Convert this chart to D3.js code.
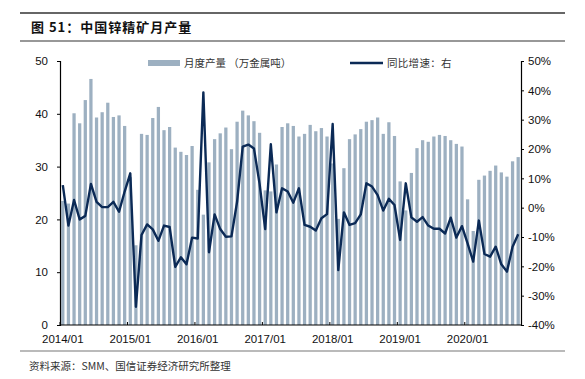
<!DOCTYPE html>
<html><head><meta charset="utf-8">
<script src="https://cdn.jsdelivr.net/npm/d3@7/dist/d3.min.js"></script>
<style>
html,body{margin:0;padding:0;background:#fff;}
svg{display:block;}
</style>
</head><body>
<script>
// ---- data ----
const startYear = 2014;
const monthCount = 82; // 2014/01 .. 2020/10
const months = d3.range(monthCount).map(i => {
  const y = startYear + Math.floor(i / 12), m = (i % 12) + 1;
  return y + "/" + (m < 10 ? "0" + m : m);
});
// 月度产量（万金属吨）
const production = [
  23.5, 23.0, 40.1, 38.2, 42.6, 46.6, 39.3, 40.3, 42.1, 39.4, 39.7, 37.7,
  28.0, 15.1, 36.2, 36.0, 39.2, 41.3, 36.9, 37.5, 33.6, 32.8, 32.2, 33.9,
  25.6, 20.9, 30.8, 35.2, 36.3, 37.4, 33.3, 38.5, 40.6, 39.7, 38.6, 36.4,
  25.5, 25.3, 30.4, 37.5, 38.2, 37.7, 35.7, 36.2, 37.9, 36.7, 37.3, 35.7,
  30.6, 20.1, 29.7, 35.2, 36.1, 37.1, 38.5, 38.8, 39.3, 36.2, 38.4, 35.8,
  27.2, 21.7, 28.8, 33.5, 35.0, 34.7, 35.7, 36.0, 35.8, 35.0, 34.3, 33.8,
  23.8, 17.8, 27.5, 28.3, 29.2, 30.2, 28.9, 28.1, 31.0, 31.8
];
// 同比增速（%，右轴）
const yoy = [
   7.7, -6.1,  2.6, -4.0, -2.8,  8.1,  2.0,  0.2,  0.2,  2.0, -1.4,  5.5,
  11.7,-33.8, -9.3, -5.7, -7.4,-11.3, -6.1, -6.6,-20.2,-16.9,-19.3,-10.2,
 -10.5, 39.3,-15.2, -2.3, -7.3, -9.9, -9.8,  2.0, 20.8, 21.5, 20.2,  8.1,
  -7.3, 21.6, -1.6,  6.6,  5.5,  1.7,  6.6, -5.9, -6.5, -7.8, -3.6, -2.2,
  28.5,-21.3, -1.6, -5.9, -5.3, -2.3,  8.3,  7.2,  4.3, -1.0,  3.0,  0.9,
 -11.0,  8.3, -3.3, -4.8, -3.2, -6.1, -7.2, -7.2, -8.8, -3.4,-10.2, -6.3,
 -12.2,-18.4, -4.4,-15.8,-16.7,-13.3,-19.3,-21.8,-13.3, -9.1
];
const leftTicks = [0, 10, 20, 30, 40, 50];
const rightTicks = [-40, -30, -20, -10, 0, 10, 20, 30, 40, 50];
const xLabels = ["2014/01","2015/01","2016/01","2017/01","2018/01","2019/01","2020/01"];
const title = "图 51：中国锌精矿月产量";
const barLegend = "月度产量 （万金属吨）";
const lineLegend = "同比增速：右";
const source = "资料来源：SMM、国信证券经济研究所整理";

// ---- chart ----
const W = 585, H = 379;
const L = 60, R = 521, T = 61, B = 325;
const numFont = "'Liberation Sans', Arial, sans-serif";
const cjkFont = "'Noto Sans CJK SC', 'Noto Sans', sans-serif";
const barColor = "#9db0c1";
const lineColor = "#0b2a56";

const svg = d3.select("body").append("svg").attr("width", W).attr("height", H);

// title rules
svg.append("line").attr("x1", 20).attr("x2", 565).attr("y1", 13).attr("y2", 13)
  .attr("stroke", "#333").attr("stroke-width", 1.5);
svg.append("line").attr("x1", 20).attr("x2", 565).attr("y1", 41).attr("y2", 41)
  .attr("stroke", "#333").attr("stroke-width", 1.2);
svg.append("text").attr("x", 31).attr("y", 32)
  .attr("font-family", cjkFont).attr("font-size", 13).attr("font-weight", "bold")
  .attr("letter-spacing", 1).attr("fill", "#111").text(title);

// bottom rule & source
svg.append("line").attr("x1", 20).attr("x2", 565).attr("y1", 351).attr("y2", 351)
  .attr("stroke", "#777").attr("stroke-width", 1.2);
svg.append("text").attr("x", 29).attr("y", 370)
  .attr("font-family", cjkFont).attr("font-size", 10.5).attr("fill", "#333").text(source);

const x = d3.scaleBand().domain(months).range([L, R]).paddingInner(0.42).paddingOuter(0.21);
const step = x.step();
const yL = d3.scaleLinear().domain([0, 50]).range([B, T]);
const yR = d3.scaleLinear().domain([-40, 50]).range([B, T]);

// bars
svg.append("g").selectAll("rect").data(production).join("rect")
  .attr("x", (d, i) => x(months[i]))
  .attr("width", x.bandwidth())
  .attr("y", d => yL(d))
  .attr("height", d => yL(0) - yL(d))
  .attr("fill", barColor);

// line
const line = d3.line()
  .x((d, i) => x(months[i]) + x.bandwidth() / 2)
  .y(d => yR(d));
svg.append("path").datum(yoy).attr("d", line)
  .attr("fill", "none").attr("stroke", lineColor).attr("stroke-width", 2.4)
  .attr("stroke-linejoin", "round");

// left axis
const gL = svg.append("g").attr("transform", `translate(${L},0)`)
  .call(d3.axisLeft(yL).tickValues(leftTicks).tickSize(3).tickPadding(9).tickFormat(d3.format("d")));
// right axis
const gR = svg.append("g").attr("transform", `translate(${R},0)`)
  .call(d3.axisRight(yR).tickValues(rightTicks).tickSize(3).tickPadding(4).tickFormat(d => d + "%"));
[gL, gR].forEach(g => {
  g.selectAll("path.domain").attr("stroke", "#000").attr("stroke-width", 1.2);
  g.selectAll(".tick line").attr("stroke", "#000");
  g.selectAll("text").attr("font-family", numFont).attr("font-size", 11.5).attr("fill", "#111");
});

// x axis
const gX = svg.append("g");
gX.append("line").attr("x1", L).attr("x2", R).attr("y1", B).attr("y2", B)
  .attr("stroke", "#000").attr("stroke-width", 1.2);
gX.selectAll("line.tk").data(xLabels).join("line").attr("class", "tk")
  .attr("x1", d => x(d) - step * 0.21).attr("x2", d => x(d) - step * 0.21)
  .attr("y1", B).attr("y2", B - 3).attr("stroke", "#000");
gX.selectAll("text").data(xLabels).join("text")
  .attr("x", d => x(d) + x.bandwidth() / 2).attr("y", 342.5)
  .attr("text-anchor", "middle").attr("font-family", numFont).attr("font-size", 11.5)
  .attr("fill", "#111").text(d => d);

// legend
const lg = svg.append("g");
lg.append("rect").attr("x", 148).attr("y", 60).attr("width", 32).attr("height", 6).attr("fill", barColor);
lg.append("text").attr("x", 184).attr("y", 67).attr("font-family", cjkFont).attr("font-size", 10.5)
  .attr("fill", "#333").text(barLegend);
lg.append("line").attr("x1", 350).attr("x2", 383).attr("y1", 63).attr("y2", 63)
  .attr("stroke", lineColor).attr("stroke-width", 2.4);
lg.append("text").attr("x", 387).attr("y", 67).attr("font-family", cjkFont).attr("font-size", 10.5)
  .attr("letter-spacing", 0.3).attr("fill", "#333").text(lineLegend);
</script>
</body></html>
